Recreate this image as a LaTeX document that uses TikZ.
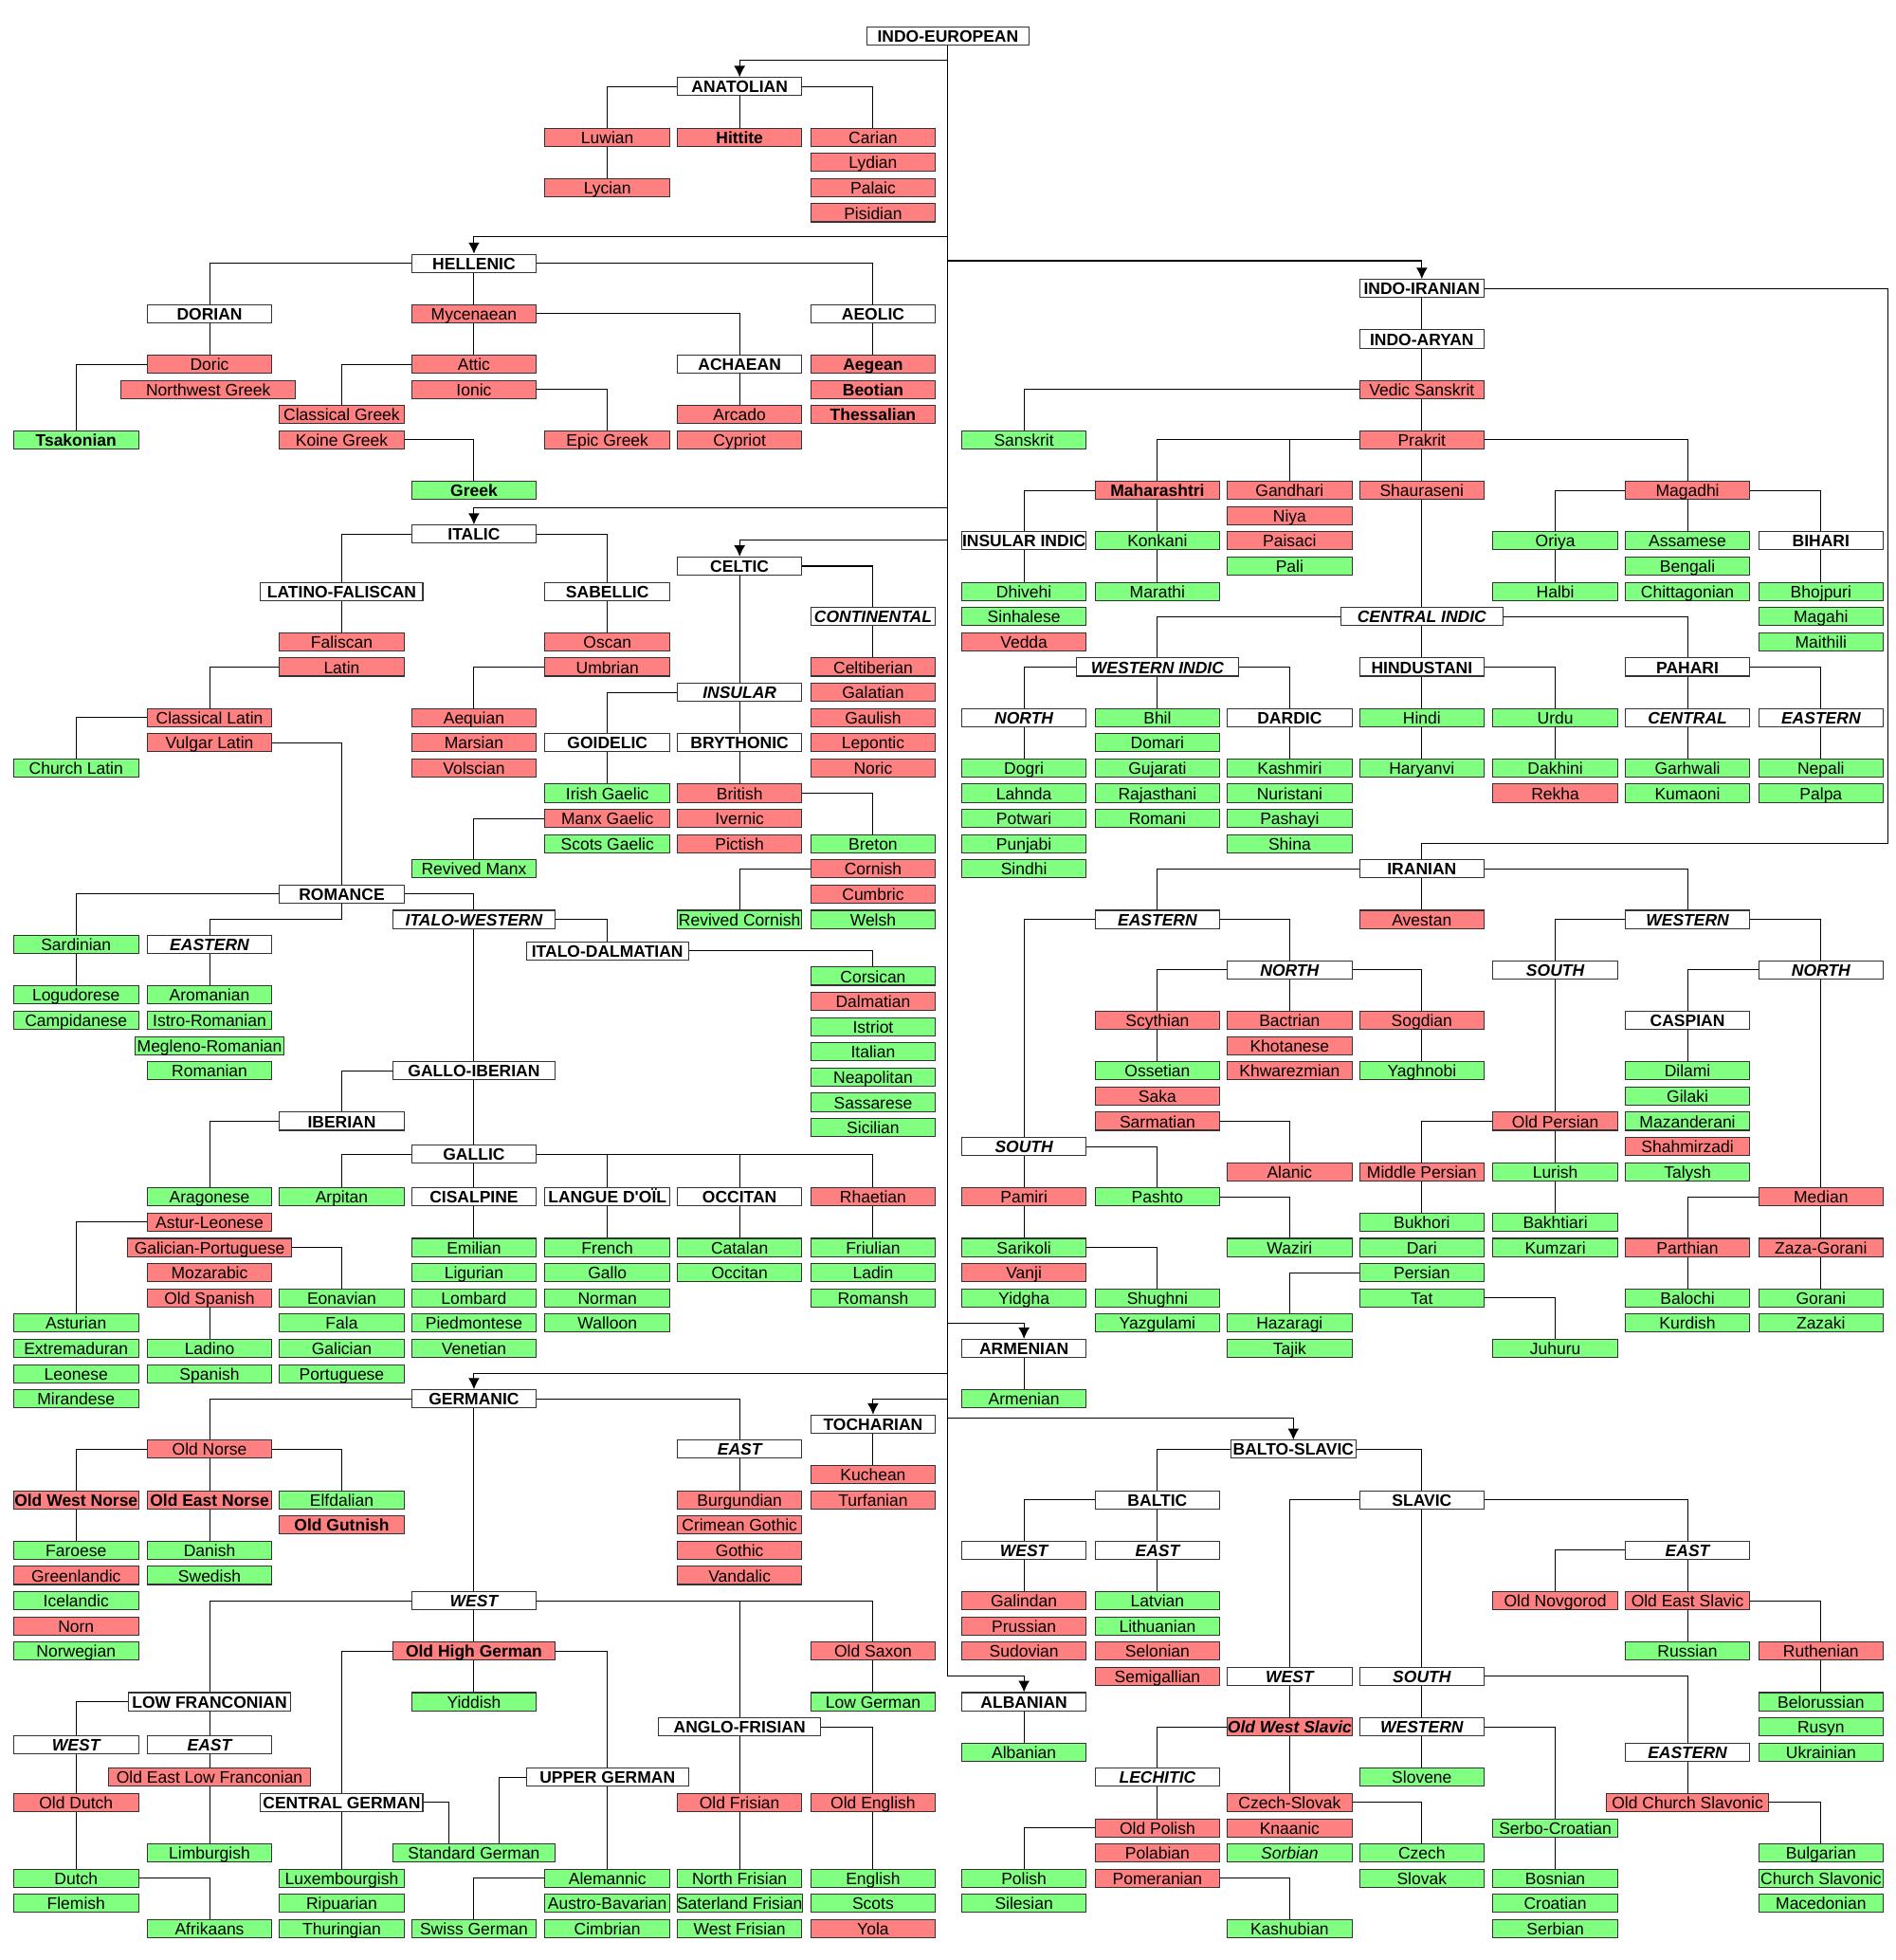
\documentclass[tikz,border=0pt]{standalone}
\usepackage{fontspec}
\setmainfont{Liberation Sans}
\usepackage{tikz}
\usetikzlibrary{arrows.meta}

\definecolor{extinctred}{HTML}{FF8080}
\definecolor{livinggreen}{HTML}{80FF80}
\newcommand{\langfont}{\fontsize{13.3}{14}\selectfont}

\tikzset{
  lang/.style={draw=black!80, minimum width=100pt, minimum height=14.5pt, inner sep=0pt,
    text height=11pt, text depth=1pt, font=\langfont},
  extinct/.style={lang, fill=extinctred},
  living/.style={lang, fill=livinggreen},
  group/.style={lang, fill=white, font=\langfont\bfseries},
  igroup/.style={group, font=\langfont\bfseries\itshape},
  wide/.style={minimum width=130pt},
  strong/.style={font=\langfont\bfseries},
  italicname/.style={font=\langfont\itshape},
}

\begin{document}
\begin{tikzpicture}[x=1pt, y=-20.227pt, line width=0.8pt, >={Latex[length=9pt,width=9pt]}]
    \useasboundingbox (0,-1.434) rectangle (1520,76.24);
    \node[group, wide] (ie) at (760,0) {INDO-EUROPEAN};
    % trunk
    \coordinate (tanat) at (760,0.95);
    \coordinate (thell) at (760,7.93);
    \coordinate (tii) at (760,8.9);
    \coordinate (tital) at (760,18.7);
    \coordinate (tcelt) at (760,19.95);
    \coordinate (tarm) at (760,51);
    \coordinate (tgerm) at (760,53);
    \coordinate (ttoch) at (760,54);
    \coordinate (tbs) at (760,54.75);
    \coordinate (talb) at (760,65);

    % anatolian
    \node[group] (anatolian) at (593,2) {ANATOLIAN};
    \node[extinct] (luwian) at (487,4) {Luwian};
    \node[extinct, strong] (hittite) at (593,4) {Hittite};
    \node[extinct] (carian) at (700,4) {Carian};
    \node[extinct] (lydian) at (700,5) {Lydian};
    \node[extinct] (lycian) at (487,6) {Lycian};
    \node[extinct] (palaic) at (700,6) {Palaic};
    \node[extinct] (pisidian) at (700,7) {Pisidian};

    % hellenic
    \node[group] (hellenic) at (380,9) {HELLENIC};
    \node[group] (dorian) at (168,11) {DORIAN};
    \node[extinct] (mycenaean) at (380,11) {Mycenaean};
    \node[group] (aeolic) at (700,11) {AEOLIC};
    \node[extinct] (doric) at (168,13) {Doric};
    \node[extinct, minimum width=140pt] (nwgreek) at (167,14) {Northwest Greek};
    \node[living, strong] (tsakonian) at (61,16) {Tsakonian};
    \node[extinct] (attic) at (380,13) {Attic};
    \node[extinct] (ionic) at (380,14) {Ionic};
    \node[extinct] (clgreek) at (274,15) {Classical Greek};
    \node[extinct] (koine) at (274,16) {Koine Greek};
    \node[living, strong] (greek) at (380,18) {Greek};
    \node[extinct] (epic) at (487,16) {Epic Greek};
    \node[group] (achaean) at (593,13) {ACHAEAN};
    \node[extinct] (arcado) at (593,15) {Arcado};
    \node[extinct] (cypriot) at (593,16) {Cypriot};
    \node[extinct, strong] (aegean) at (700,13) {Aegean};
    \node[extinct, strong] (beotian) at (700,14) {Beotian};
    \node[extinct, strong] (thessalian) at (700,15) {Thessalian};

    % italic
    \node[group] (italic) at (380,19.73) {ITALIC};
    \node[group, wide] (latfal) at (274,22) {LATINO-FALISCAN};
    \node[group] (sabellic) at (487,22) {SABELLIC};
    \node[extinct] (faliscan) at (274,24) {Faliscan};
    \node[extinct] (latin) at (274,25) {Latin};
    \node[extinct] (cllatin) at (168,27) {Classical Latin};
    \node[extinct] (vglatin) at (168,28) {Vulgar Latin};
    \node[living] (chlatin) at (61,29) {Church Latin};
    \node[extinct] (oscan) at (487,24) {Oscan};
    \node[extinct] (umbrian) at (487,25) {Umbrian};
    \node[extinct] (aequian) at (380,27) {Aequian};
    \node[extinct] (marsian) at (380,28) {Marsian};
    \node[extinct] (volscian) at (380,29) {Volscian};

    % romance
    \node[group] (romance) at (274,34) {ROMANCE};
    \node[living] (sardinian) at (61,36) {Sardinian};
    \node[living] (logudorese) at (61,38) {Logudorese};
    \node[living] (campidanese) at (61,39) {Campidanese};
    \node[igroup] (eastrom) at (168,36) {EASTERN};
    \node[living] (aromanian) at (168,38) {Aromanian};
    \node[living] (istro) at (168,39) {Istro-Romanian};
    \node[living, minimum width=120pt] (megleno) at (168,40) {Megleno-Romanian};
    \node[living] (romanian) at (168,41) {Romanian};
    \node[igroup, wide] (italowest) at (380,35) {ITALO-WESTERN};
    \node[group, wide] (italodal) at (487,36.25) {ITALO-DALMATIAN};
    \node[living] (corsican) at (700,37.25) {Corsican};
    \node[extinct] (dalmatian) at (700,38.25) {Dalmatian};
    \node[living] (istriot) at (700,39.25) {Istriot};
    \node[living] (italian) at (700,40.25) {Italian};
    \node[living] (neapolitan) at (700,41.25) {Neapolitan};
    \node[living] (sassarese) at (700,42.25) {Sassarese};
    \node[living] (sicilian) at (700,43.25) {Sicilian};
    \node[group, wide] (galloib) at (380,41) {GALLO-IBERIAN};
    \node[group] (iberian) at (274,43) {IBERIAN};
    \node[group] (gallic) at (380,44.3) {GALLIC};
    % iberian
    \node[living] (aragonese) at (168,46) {Aragonese};
    \node[extinct] (asturleon) at (168,47) {Astur-Leonese};
    \node[extinct, minimum width=131pt] (galport) at (168,48) {Galician-Portuguese};
    \node[extinct] (mozarabic) at (168,49) {Mozarabic};
    \node[extinct] (oldspanish) at (168,50) {Old Spanish};
    \node[living] (asturian) at (61,51) {Asturian};
    \node[living] (extremaduran) at (61,52) {Extremaduran};
    \node[living] (leonese) at (61,53) {Leonese};
    \node[living] (mirandese) at (61,54) {Mirandese};
    \node[living] (eonavian) at (274,50) {Eonavian};
    \node[living] (fala) at (274,51) {Fala};
    \node[living] (galician) at (274,52) {Galician};
    \node[living] (portuguese) at (274,53) {Portuguese};
    \node[living] (ladino) at (168,52) {Ladino};
    \node[living] (spanish) at (168,53) {Spanish};
    % gallic
    \node[living] (arpitan) at (274,46) {Arpitan};
    \node[group] (cisalpine) at (380,46) {CISALPINE};
    \node[group] (oil) at (487,46) {LANGUE D\textquotesingle OÏL};
    \node[group] (occitan) at (593,46) {OCCITAN};
    \node[extinct] (rhaetian) at (700,46) {Rhaetian};
    \node[living] (emilian) at (380,48) {Emilian};
    \node[living] (ligurian) at (380,49) {Ligurian};
    \node[living] (lombard) at (380,50) {Lombard};
    \node[living] (piedmontese) at (380,51) {Piedmontese};
    \node[living] (venetian) at (380,52) {Venetian};
    \node[living] (french) at (487,48) {French};
    \node[living] (gallo) at (487,49) {Gallo};
    \node[living] (norman) at (487,50) {Norman};
    \node[living] (walloon) at (487,51) {Walloon};
    \node[living] (catalan) at (593,48) {Catalan};
    \node[living] (occitanl) at (593,49) {Occitan};
    \node[living] (friulian) at (700,48) {Friulian};
    \node[living] (ladin) at (700,49) {Ladin};
    \node[living] (romansh) at (700,50) {Romansh};

    % celtic
    \node[group] (celtic) at (593,21) {CELTIC};
    \node[igroup] (continental) at (700,23) {CONTINENTAL};
    \node[extinct] (celtiberian) at (700,25) {Celtiberian};
    \node[extinct] (galatian) at (700,26) {Galatian};
    \node[extinct] (gaulish) at (700,27) {Gaulish};
    \node[extinct] (lepontic) at (700,28) {Lepontic};
    \node[extinct] (noric) at (700,29) {Noric};
    \node[igroup] (insular) at (593,26) {INSULAR};
    \node[group] (goidelic) at (487,28) {GOIDELIC};
    \node[group] (brythonic) at (593,28) {BRYTHONIC};
    \node[living] (irish) at (487,30) {Irish Gaelic};
    \node[extinct] (manx) at (487,31) {Manx Gaelic};
    \node[living] (scots) at (487,32) {Scots Gaelic};
    \node[living] (revmanx) at (380,33) {Revived Manx};
    \node[extinct] (british) at (593,30) {British};
    \node[extinct] (ivernic) at (593,31) {Ivernic};
    \node[extinct] (pictish) at (593,32) {Pictish};
    \node[living] (breton) at (700,32) {Breton};
    \node[extinct] (cornish) at (700,33) {Cornish};
    \node[extinct] (cumbric) at (700,34) {Cumbric};
    \node[living] (welsh) at (700,35) {Welsh};
    \node[living] (revcornish) at (593,35) {Revived Cornish};

    % germanic
    \node[group] (germanic) at (380,54) {GERMANIC};
    \node[extinct] (oldnorse) at (168,56) {Old Norse};
    \node[igroup] (eastgm) at (593,56) {EAST};
    \node[extinct, strong] (ownorse) at (61,58) {Old West Norse};
    \node[extinct, strong] (oenorse) at (168,58) {Old East Norse};
    \node[living] (elfdalian) at (274,58) {Elfdalian};
    \node[extinct, strong] (gutnish) at (274,59) {Old Gutnish};
    \node[living] (faroese) at (61,60) {Faroese};
    \node[extinct] (greenlandic) at (61,61) {Greenlandic};
    \node[living] (icelandic) at (61,62) {Icelandic};
    \node[extinct] (norn) at (61,63) {Norn};
    \node[living] (norwegian) at (61,64) {Norwegian};
    \node[living] (danish) at (168,60) {Danish};
    \node[living] (swedish) at (168,61) {Swedish};
    \node[extinct] (burgundian) at (593,58) {Burgundian};
    \node[extinct] (crimean) at (593,59) {Crimean Gothic};
    \node[extinct] (gothic) at (593,60) {Gothic};
    \node[extinct] (vandalic) at (593,61) {Vandalic};
    \node[igroup] (westgm) at (380,62) {WEST};
    \node[extinct, strong, wide] (ohg) at (380,64) {Old High German};
    \node[extinct] (oldsaxon) at (700,64) {Old Saxon};
    \node[living] (lowgerman) at (700,66) {Low German};
    \node[living] (yiddish) at (380,66) {Yiddish};
    \node[group, wide] (lowfranc) at (168,66) {LOW FRANCONIAN};
    \node[igroup] (westlf) at (61,67.7) {WEST};
    \node[igroup] (eastlf) at (168,67.7) {EAST};
    \node[extinct, minimum width=162pt] (oelf) at (168,69) {Old East Low Franconian};
    \node[extinct] (olddutch) at (61,70) {Old Dutch};
    \node[living] (limburgish) at (168,72) {Limburgish};
    \node[living] (dutch) at (61,73) {Dutch};
    \node[living] (flemish) at (61,74) {Flemish};
    \node[living] (afrikaans) at (168,75) {Afrikaans};
    \node[group, wide] (cgerman) at (274,70) {CENTRAL GERMAN};
    \node[living] (luxembourgish) at (274,73) {Luxembourgish};
    \node[living] (ripuarian) at (274,74) {Ripuarian};
    \node[living] (thuringian) at (274,75) {Thuringian};
    \node[living, wide] (stdgerman) at (380,72) {Standard German};
    \node[group, wide] (ugerman) at (487,69) {UPPER GERMAN};
    \node[living] (alemannic) at (487,73) {Alemannic};
    \node[living] (austrobav) at (487,74) {Austro-Bavarian};
    \node[living] (cimbrian) at (487,75) {Cimbrian};
    \node[living] (swissgerman) at (380,75) {Swiss German};
    \node[group, wide] (anglofris) at (593,67) {ANGLO-FRISIAN};
    \node[extinct] (oldfrisian) at (593,70) {Old Frisian};
    \node[extinct] (oldenglish) at (700,70) {Old English};
    \node[living] (nfrisian) at (593,73) {North Frisian};
    \node[living] (sfrisian) at (593,74) {Saterland Frisian};
    \node[living] (wfrisian) at (593,75) {West Frisian};
    \node[living] (english) at (700,73) {English};
    \node[living] (scotsl) at (700,74) {Scots};
    \node[extinct] (yola) at (700,75) {Yola};

    % tocharian
    \node[group] (tocharian) at (700,55) {TOCHARIAN};
    \node[extinct] (kuchean) at (700,57) {Kuchean};
    \node[extinct] (turfanian) at (700,58) {Turfanian};

    % indo-iranian
    \node[group] (indoiranian) at (1140,10) {INDO-IRANIAN};
    \node[group] (indoaryan) at (1140,12) {INDO-ARYAN};
    \node[extinct] (vedic) at (1140,14) {Vedic Sanskrit};
    \node[living] (sanskrit) at (821,16) {Sanskrit};
    \node[extinct] (prakrit) at (1140,16) {Prakrit};
    \node[extinct, strong] (maharashtri) at (928,18) {Maharashtri};
    \node[extinct] (gandhari) at (1034,18) {Gandhari};
    \node[extinct] (niya) at (1034,19) {Niya};
    \node[extinct] (paisaci) at (1034,20) {Paisaci};
    \node[living] (pali) at (1034,21) {Pali};
    \node[extinct] (shauraseni) at (1140,18) {Shauraseni};
    \node[extinct] (magadhi) at (1353,18) {Magadhi};
    \node[group] (insindic) at (821,20) {INSULAR INDIC};
    \node[living] (konkani) at (928,20) {Konkani};
    \node[living] (marathi) at (928,22) {Marathi};
    \node[living] (dhivehi) at (821,22) {Dhivehi};
    \node[living] (sinhalese) at (821,23) {Sinhalese};
    \node[extinct] (vedda) at (821,24) {Vedda};
    \node[living] (oriya) at (1247,20) {Oriya};
    \node[living] (halbi) at (1247,22) {Halbi};
    \node[living] (assamese) at (1353,20) {Assamese};
    \node[living] (bengali) at (1353,21) {Bengali};
    \node[living] (chittagonian) at (1353,22) {Chittagonian};
    \node[group] (bihari) at (1460,20) {BIHARI};
    \node[living] (bhojpuri) at (1460,22) {Bhojpuri};
    \node[living] (magahi) at (1460,23) {Magahi};
    \node[living] (maithili) at (1460,24) {Maithili};
    \node[igroup, wide] (cindic) at (1140,23) {CENTRAL INDIC};
    \node[igroup, wide] (windic) at (928,25) {WESTERN INDIC};
    \node[group] (hindustani) at (1140,25) {HINDUSTANI};
    \node[group] (pahari) at (1353,25) {PAHARI};
    \node[igroup] (northwi) at (821,27) {NORTH};
    \node[living] (bhil) at (928,27) {Bhil};
    \node[group] (dardic) at (1034,27) {DARDIC};
    \node[living] (hindi) at (1140,27) {Hindi};
    \node[living] (urdu) at (1247,27) {Urdu};
    \node[igroup] (centralp) at (1353,27) {CENTRAL};
    \node[igroup] (eastp) at (1460,27) {EASTERN};
    \node[living] (domari) at (928,28) {Domari};
    \node[living] (dogri) at (821,29) {Dogri};
    \node[living] (lahnda) at (821,30) {Lahnda};
    \node[living] (potwari) at (821,31) {Potwari};
    \node[living] (punjabi) at (821,32) {Punjabi};
    \node[living] (sindhi) at (821,33) {Sindhi};
    \node[living] (gujarati) at (928,29) {Gujarati};
    \node[living] (rajasthani) at (928,30) {Rajasthani};
    \node[living] (romani) at (928,31) {Romani};
    \node[living] (kashmiri) at (1034,29) {Kashmiri};
    \node[living] (nuristani) at (1034,30) {Nuristani};
    \node[living] (pashayi) at (1034,31) {Pashayi};
    \node[living] (shina) at (1034,32) {Shina};
    \node[living] (haryanvi) at (1140,29) {Haryanvi};
    \node[living] (dakhini) at (1247,29) {Dakhini};
    \node[extinct] (rekha) at (1247,30) {Rekha};
    \node[living] (garhwali) at (1353,29) {Garhwali};
    \node[living] (kumaoni) at (1353,30) {Kumaoni};
    \node[living] (nepali) at (1460,29) {Nepali};
    \node[living] (palpa) at (1460,30) {Palpa};

    % iranian
    \node[group] (iranian) at (1140,33) {IRANIAN};
    \node[igroup] (eastir) at (928,35) {EASTERN};
    \node[extinct] (avestan) at (1140,35) {Avestan};
    \node[igroup] (westir) at (1353,35) {WESTERN};
    \node[igroup] (northei) at (1034,37) {NORTH};
    \node[igroup] (southwi) at (1247,37) {SOUTH};
    \node[igroup] (northwir) at (1460,37) {NORTH};
    \node[extinct] (scythian) at (928,39) {Scythian};
    \node[extinct] (bactrian) at (1034,39) {Bactrian};
    \node[extinct] (sogdian) at (1140,39) {Sogdian};
    \node[group] (caspian) at (1353,39) {CASPIAN};
    \node[extinct] (khotanese) at (1034,40) {Khotanese};
    \node[living] (ossetian) at (928,41) {Ossetian};
    \node[extinct] (khwarezmian) at (1034,41) {Khwarezmian};
    \node[living] (yaghnobi) at (1140,41) {Yaghnobi};
    \node[living] (dilami) at (1353,41) {Dilami};
    \node[extinct] (saka) at (928,42) {Saka};
    \node[living] (gilaki) at (1353,42) {Gilaki};
    \node[extinct] (sarmatian) at (928,43) {Sarmatian};
    \node[extinct] (oldpersian) at (1247,43) {Old Persian};
    \node[living] (mazanderani) at (1353,43) {Mazanderani};
    \node[igroup] (southei) at (821,44) {SOUTH};
    \node[extinct] (shahmirzadi) at (1353,44) {Shahmirzadi};
    \node[extinct] (alanic) at (1034,45) {Alanic};
    \node[extinct] (midpersian) at (1140,45) {Middle Persian};
    \node[living] (lurish) at (1247,45) {Lurish};
    \node[living] (talysh) at (1353,45) {Talysh};
    \node[extinct] (pamiri) at (821,46) {Pamiri};
    \node[living] (pashto) at (928,46) {Pashto};
    \node[extinct] (median) at (1460,46) {Median};
    \node[living] (bukhori) at (1140,47) {Bukhori};
    \node[living] (bakhtiari) at (1247,47) {Bakhtiari};
    \node[living] (sarikoli) at (821,48) {Sarikoli};
    \node[living] (waziri) at (1034,48) {Waziri};
    \node[living] (dari) at (1140,48) {Dari};
    \node[living] (kumzari) at (1247,48) {Kumzari};
    \node[extinct] (parthian) at (1353,48) {Parthian};
    \node[extinct] (zazagorani) at (1460,48) {Zaza-Gorani};
    \node[extinct] (vanji) at (821,49) {Vanji};
    \node[living] (persian) at (1140,49) {Persian};
    \node[living] (yidgha) at (821,50) {Yidgha};
    \node[living] (shughni) at (928,50) {Shughni};
    \node[living] (tat) at (1140,50) {Tat};
    \node[living] (balochi) at (1353,50) {Balochi};
    \node[living] (gorani) at (1460,50) {Gorani};
    \node[living] (yazgulami) at (928,51) {Yazgulami};
    \node[living] (hazaragi) at (1034,51) {Hazaragi};
    \node[living] (kurdish) at (1353,51) {Kurdish};
    \node[living] (zazaki) at (1460,51) {Zazaki};
    \node[living] (tajik) at (1034,52) {Tajik};
    \node[living] (juhuru) at (1247,52) {Juhuru};

    % armenian
    \node[group] (armenianb) at (821,52) {ARMENIAN};
    \node[living] (armenian) at (821,54) {Armenian};

    % balto-slavic
    \node[group] (baltoslavic) at (1037,56) {BALTO-SLAVIC};
    \node[group] (baltic) at (928,58) {BALTIC};
    \node[group] (slavic) at (1140,58) {SLAVIC};
    \node[igroup] (westb) at (821,60) {WEST};
    \node[igroup] (eastb) at (928,60) {EAST};
    \node[igroup] (easts) at (1353,60) {EAST};
    \node[extinct] (galindan) at (821,62) {Galindan};
    \node[extinct] (prussian) at (821,63) {Prussian};
    \node[extinct] (sudovian) at (821,64) {Sudovian};
    \node[living] (latvian) at (928,62) {Latvian};
    \node[living] (lithuanian) at (928,63) {Lithuanian};
    \node[extinct] (selonian) at (928,64) {Selonian};
    \node[extinct] (semigallian) at (928,65) {Semigallian};
    \node[extinct] (novgorod) at (1247,62) {Old Novgorod};
    \node[extinct] (oeslavic) at (1353,62) {Old East Slavic};
    \node[living] (russian) at (1353,64) {Russian};
    \node[extinct] (ruthenian) at (1460,64) {Ruthenian};
    \node[living] (belorussian) at (1460,66) {Belorussian};
    \node[living] (rusyn) at (1460,67) {Rusyn};
    \node[living] (ukrainian) at (1460,68) {Ukrainian};
    \node[igroup] (wests) at (1034,65) {WEST};
    \node[igroup] (souths) at (1140,65) {SOUTH};
    \node[extinct, font=\langfont\bfseries\itshape] (owslavic) at (1034,67) {Old West Slavic};
    \node[igroup] (westernss) at (1140,67) {WESTERN};
    \node[igroup] (easternss) at (1353,68) {EASTERN};
    \node[igroup] (lechitic) at (928,69) {LECHITIC};
    \node[living] (slovene) at (1140,69) {Slovene};
    \node[extinct] (czslovak) at (1034,70) {Czech-Slovak};
    \node[extinct, wide] (ochslavonic) at (1353,70) {Old Church Slavonic};
    \node[extinct] (oldpolish) at (928,71) {Old Polish};
    \node[extinct] (knaanic) at (1034,71) {Knaanic};
    \node[living] (serbocroatian) at (1247,71) {Serbo-Croatian};
    \node[extinct] (polabian) at (928,72) {Polabian};
    \node[living, italicname] (sorbian) at (1034,72) {Sorbian};
    \node[living] (czech) at (1140,72) {Czech};
    \node[living] (bulgarian) at (1460,72) {Bulgarian};
    \node[living] (polish) at (821,73) {Polish};
    \node[extinct] (pomeranian) at (928,73) {Pomeranian};
    \node[living] (slovak) at (1140,73) {Slovak};
    \node[living] (bosnian) at (1247,73) {Bosnian};
    \node[living] (chslavonic) at (1460,73) {Church Slavonic};
    \node[living] (silesian) at (821,74) {Silesian};
    \node[living] (croatian) at (1247,74) {Croatian};
    \node[living] (macedonian) at (1460,74) {Macedonian};
    \node[living] (kashubian) at (1034,75) {Kashubian};
    \node[living] (serbian) at (1247,75) {Serbian};

    % albanian
    \node[group] (albanianb) at (821,66) {ALBANIAN};
    \node[living] (albanian) at (821,68) {Albanian};

    % trunk and branches
    \draw (ie) -- (talb);
    \draw [->] (tanat) -| (anatolian);
    \draw [->] (thell) -| (hellenic);
    \draw [->] (tii) -| (indoiranian);
    \draw [->] (tital) -| (italic);
    \draw [->] (tcelt) -| (celtic);
    \draw [->] (tarm) -| (armenianb);
    \draw [->] (tgerm) -| (germanic);
    \draw [->] (ttoch) -| (tocharian);
    \draw [->] (tbs) -| (baltoslavic);
    \draw [->] (talb) -| (albanianb);

    % anatolian links
    \draw (anatolian) -| (luwian);
    \draw (anatolian) -- (hittite);
    \draw (anatolian) -| (carian);
    \draw (luwian) -- (lycian);

    % hellenic links
    \draw (hellenic) -| (dorian);
    \draw (hellenic) -- (mycenaean);
    \draw (hellenic) -| (aeolic);
    \draw (dorian) -- (doric);
    \draw (doric) -| (tsakonian);
    \draw (mycenaean) -- (attic);
    \draw (mycenaean) -| (achaean);
    \draw (attic) -| (clgreek);
    \draw (ionic) -| (epic);
    \draw (koine) -| (greek);
    \draw (achaean) -- (arcado);
    \draw (aeolic) -- (aegean);

    % italic links
    \draw (italic) -| (latfal);
    \draw (italic) -| (sabellic);
    \draw (latfal) -- (faliscan);
    \draw (latin) -| (cllatin);
    \draw (cllatin) -| (chlatin);
    \draw (vglatin) -| (romance);
    \draw (sabellic) -- (oscan);
    \draw (umbrian) -| (aequian);

    % romance links
    \draw (romance) -| (sardinian);
    \draw (sardinian) -- (logudorese);
    \draw (romance) -- (romance |- italowest) -| (eastrom);
    \draw (eastrom) -- (aromanian);
    \draw (romance) -| (italowest);
    \draw (italowest) -| (italodal);
    \draw (italodal) -| (corsican);
    \draw (italowest) -- (galloib);
    \draw (galloib) -| (iberian);
    \draw (galloib) -- (gallic);
    \draw (iberian) -| (aragonese);
    \draw (asturleon) -| (asturian);
    \draw (galport) -| (eonavian);
    \draw (oldspanish) -- (ladino);
    \draw (gallic) -| (arpitan);
    \draw (gallic) -- (cisalpine);
    \draw (gallic) -| (oil);
    \draw (gallic) -| (occitan);
    \draw (gallic) -| (rhaetian);
    \draw (cisalpine) -- (emilian);
    \draw (oil) -- (french);
    \draw (occitan) -- (catalan);
    \draw (rhaetian) -- (friulian);

    % celtic links
    \draw (celtic) -| (continental);
    \draw (continental) -- (celtiberian);
    \draw (celtic) -- (insular);
    \draw (insular) -| (goidelic);
    \draw (insular) -- (brythonic);
    \draw (goidelic) -- (irish);
    \draw (manx) -| (revmanx);
    \draw (brythonic) -- (british);
    \draw (british) -| (breton);
    \draw (cornish) -| (revcornish);

    % germanic links
    \draw (germanic) -| (oldnorse);
    \draw (germanic) -| (eastgm);
    \draw (germanic) -- (westgm);
    \draw (oldnorse) -| (ownorse);
    \draw (oldnorse) -- (oenorse);
    \draw (oldnorse) -| (elfdalian);
    \draw (ownorse) -- (faroese);
    \draw (oenorse) -- (danish);
    \draw (eastgm) -- (burgundian);
    \draw (westgm) -| (lowfranc);
    \draw (westgm) -- (ohg);
    \draw (westgm) -| (anglofris);
    \draw (westgm) -| (oldsaxon);
    \draw (oldsaxon) -- (lowgerman);
    \draw (ohg) -- (yiddish);
    \draw (ohg) -| (cgerman);
    \draw (ohg) -| (ugerman);
    \draw (lowfranc) -| (westlf);
    \draw (lowfranc) -- (eastlf);
    \draw (eastlf) -- (oelf);
    \draw (oelf) -- (limburgish);
    \draw (westlf) -- (olddutch);
    \draw (olddutch) -- (dutch);
    \draw (dutch) -| (afrikaans);
    \draw (cgerman) -- (luxembourgish);
    \draw (cgerman) -| ([xshift=-20pt]stdgerman.north);
    \draw (ugerman) -| ([xshift=20pt]stdgerman.north);
    \draw (ugerman) -- (alemannic);
    \draw (alemannic) -| (swissgerman);
    \draw (anglofris) -- (oldfrisian);
    \draw (anglofris) -| (oldenglish);
    \draw (oldfrisian) -- (nfrisian);
    \draw (oldenglish) -- (english);
    \draw (tocharian) -- (kuchean);

    % indo-aryan links
    \draw (indoiranian) -- (indoaryan);
    \draw (indoaryan) -- (vedic);
    \draw (vedic) -| (sanskrit);
    \draw (vedic) -- (prakrit);
    \draw (prakrit) -| (maharashtri);
    \draw (prakrit) -| (gandhari);
    \draw (prakrit) -- (shauraseni);
    \draw (prakrit) -| (magadhi);
    \draw (maharashtri) -| (insindic);
    \draw (maharashtri) -- (konkani);
    \draw (konkani) -- (marathi);
    \draw (insindic) -- (dhivehi);
    \draw (magadhi) -| (oriya);
    \draw (oriya) -- (halbi);
    \draw (magadhi) -- (assamese);
    \draw (magadhi) -| (bihari);
    \draw (bihari) -- (bhojpuri);
    \draw (shauraseni) -- (cindic);
    \draw (cindic) -| (windic);
    \draw (cindic) -- (hindustani);
    \draw (cindic) -| (pahari);
    \draw (windic) -| (northwi);
    \draw (windic) -- (bhil);
    \draw (windic) -| (dardic);
    \draw (northwi) -- (dogri);
    \draw (dardic) -- (kashmiri);
    \draw (hindustani) -- (hindi);
    \draw (hindustani) -| (urdu);
    \draw (hindi) -- (haryanvi);
    \draw (urdu) -- (dakhini);
    \draw (pahari) -- (centralp);
    \draw (pahari) -| (eastp);
    \draw (centralp) -- (garhwali);
    \draw (eastp) -- (nepali);

    % iranian links
    \coordinate (irbend) at (1514,32);
    \draw (indoiranian) -| (irbend) -| (iranian);
    \draw (iranian) -| (eastir);
    \draw (iranian) -- (avestan);
    \draw (iranian) -| (westir);
    \draw (eastir) -| (southei);
    \draw (eastir) -| (northei);
    \draw (northei) -| (scythian);
    \draw (northei) -- (bactrian);
    \draw (northei) -| (sogdian);
    \draw (scythian) -- (ossetian);
    \draw (sarmatian) -| (alanic);
    \draw (sogdian) -- (yaghnobi);
    \draw (southei) -- (pamiri);
    \draw (southei) -| (pashto);
    \draw (pashto) -| (waziri);
    \draw (pamiri) -- (sarikoli);
    \draw (sarikoli) -| (shughni);
    \draw (westir) -| (southwi);
    \draw (westir) -| (northwir);
    \draw (southwi) -- (oldpersian);
    \draw (oldpersian) -| (midpersian);
    \draw (oldpersian) -- (lurish);
    \draw (lurish) -- (bakhtiari);
    \draw (midpersian) -- (bukhori);
    \draw (persian) -| (hazaragi);
    \draw (tat) -| (juhuru);
    \draw (northwir) -| (caspian);
    \draw (northwir) -- (median);
    \draw (caspian) -- (dilami);
    \draw (median) -| (parthian);
    \draw (median) -- (zazagorani);
    \draw (parthian) -- (balochi);
    \draw (zazagorani) -- (gorani);
    \draw (armenianb) -- (armenian);
    \draw (albanianb) -- (albanian);

    % balto-slavic links
    \draw (baltoslavic) -| (baltic);
    \draw (baltoslavic) -| (slavic);
    \draw (baltic) -| (westb);
    \draw (baltic) -- (eastb);
    \draw (westb) -- (galindan);
    \draw (eastb) -- (latvian);
    \draw (slavic) -| (wests);
    \draw (slavic) -- (souths);
    \draw (slavic) -| (easts);
    \draw (easts) -| (novgorod);
    \draw (easts) -- (oeslavic);
    \draw (oeslavic) -- (russian);
    \draw (oeslavic) -| (ruthenian);
    \draw (ruthenian) -- (belorussian);
    \draw (wests) -- (owslavic);
    \draw (owslavic) -| (lechitic);
    \draw (owslavic) -- (czslovak);
    \draw (czslovak) -| (czech);
    \draw (lechitic) -- (oldpolish);
    \draw (oldpolish) -| (polish);
    \draw (pomeranian) -| (kashubian);
    \draw (souths) -- (westernss);
    \draw (souths) -| (easternss);
    \draw (westernss) -- (slovene);
    \draw (westernss) -| (serbocroatian);
    \draw (serbocroatian) -- (bosnian);
    \draw (easternss) -- (ochslavonic);
    \draw (ochslavonic) -| (bulgarian);
\end{tikzpicture}
\end{document}
